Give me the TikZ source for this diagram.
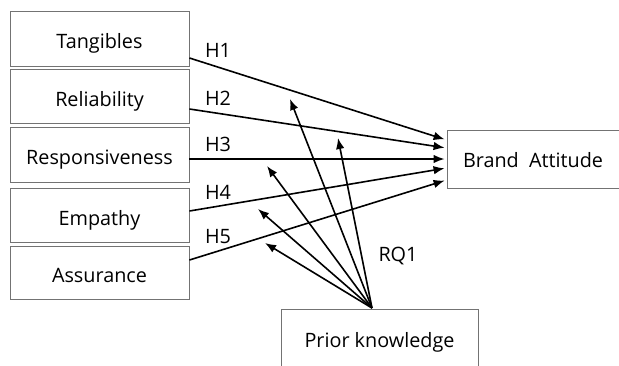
\documentclass[tikz,border=0pt]{standalone}
\usepackage{fontspec}
\setmainfont{Open Sans}
\usetikzlibrary{arrows.meta,calc}
\tikzset{
  factor/.style={draw=black!55, line width=0.9pt, minimum width=179pt, inner sep=0pt, text height=22pt, text depth=2pt, font=\fontsize{19.8}{22}\selectfont},
  link/.style={line width=1.6pt, -{Latex[length=11pt,width=8.5pt]}},
  hlabel/.style={font=\fontsize{19.8}{22}\selectfont, inner sep=0pt}
}
\begin{document}
\begin{tikzpicture}[x=1pt,y=-1pt]
\useasboundingbox (0,0) rectangle (619,365);
\clip (0,0) rectangle (619,365);
\node[factor, minimum height=55pt] (tang) at (99.5,38.5) {Tangibles};
\node[factor, minimum height=54pt] (rel) at (99.5,96) {Reliability};
\node[factor, minimum height=55pt] (resp) at (99.5,154.5) {Responsiveness};
\node[factor, minimum height=54pt] (emp) at (99.5,215) {Empathy};
\node[factor, minimum height=53pt] (ass) at (99.5,272.5) {Assurance};
\node[factor, minimum width=172pt, minimum height=58pt, text height=19pt, text depth=2.4pt] (brand) at (533,159) {Brand\ \ Attitude};
\node[factor, minimum width=197pt, minimum height=62pt, text height=17pt, text depth=3pt] (prior) at (379.5,340) {Prior knowledge};
\node[hlabel] (h1) at (218,50) {H1};
\node[hlabel] (h2) at (218,98) {H2};
\node[hlabel] (h3) at (218,144) {H3};
\node[hlabel] (h4) at (218,192) {H4};
\node[hlabel] (h5) at (218,237) {H5};
\node[hlabel] (rq) at (398,256) {RQ1};
\draw[link, shorten >=2pt] ($(tang.east)+(0,19.5)$) -- ($(brand.west)+(0,-19)$);
\draw[link, shorten >=2pt] ($(rel.east)+(0,13)$) -- ($(brand.west)+(0,-11)$);
\draw[link, shorten >=2pt] ($(resp.east)+(0,4.5)$) -- (brand.west);
\draw[link, shorten >=2pt] ($(emp.east)+(0,-4)$) -- ($(brand.west)+(0,9)$);
\draw[link, shorten >=2pt] ($(ass.east)+(0,-12.5)$) -- ($(brand.west)+(0,21)$);
\coordinate (src) at ($(prior.north)+(-7.5,-0.5)$);
\coordinate (t1) at (290,99);
\coordinate (t2) at (338,138);
\coordinate (t3) at (267,166);
\coordinate (t4) at (258,209);
\coordinate (t5) at (265,243);
\foreach \t in {t1,t2,t3,t4,t5} \draw[link] (src) -- (\t);
\end{tikzpicture}
\end{document}
